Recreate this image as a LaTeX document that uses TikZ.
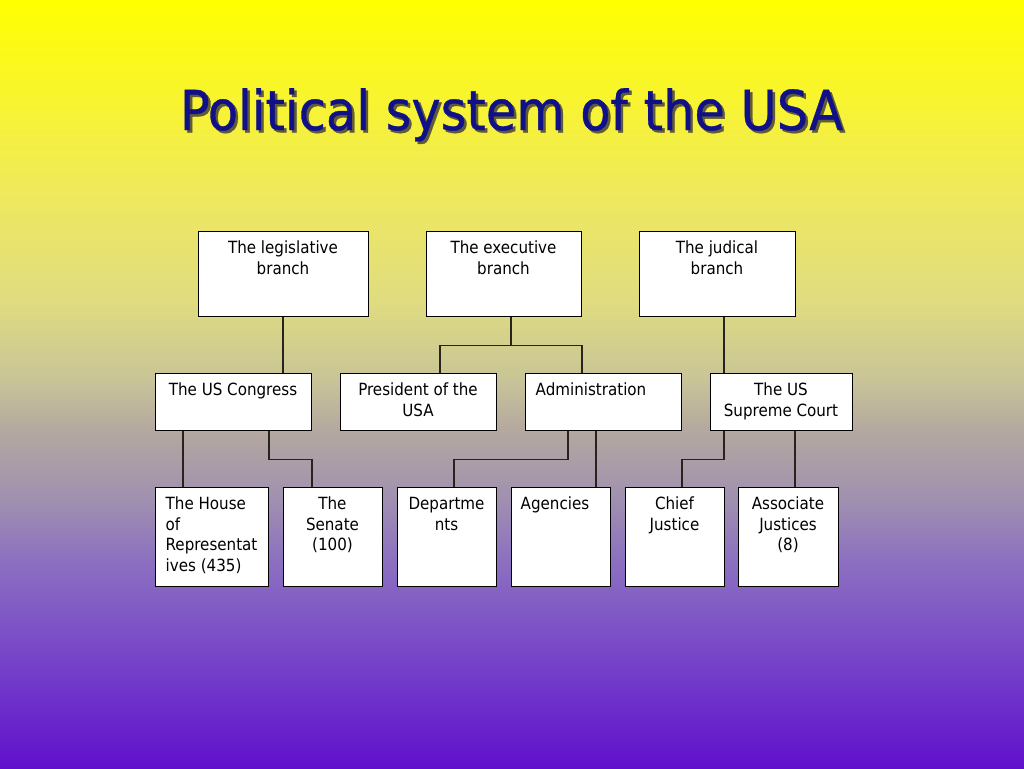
\documentclass[tikz,border=0pt]{standalone}
\usepackage{fontspec}
\setmainfont{DejaVu Sans Condensed}
\definecolor{titleblue}{RGB}{16,16,136}
\definecolor{titleshadow}{RGB}{95,90,55}
\definecolor{lineclr}{RGB}{40,35,30}
\pgfdeclareverticalshading{bgshade}{100bp}{%
rgb(0bp)=(0.376,0.063,0.8);
rgb(25bp)=(0.376,0.063,0.8);
rgb(32.68bp)=(0.471,0.282,0.784);
rgb(38.54bp)=(0.549,0.439,0.753);
rgb(42.45bp)=(0.627,0.565,0.69);
rgb(47bp)=(0.706,0.659,0.627);
rgb(50.26bp)=(0.784,0.769,0.596);
rgb(55.47bp)=(0.878,0.863,0.502);
rgb(61.98bp)=(0.933,0.91,0.376);
rgb(68.49bp)=(0.973,0.957,0.188);
rgb(75bp)=(1,1,0);
rgb(100bp)=(1,1,0)}
\newcommand{\ttltext}{Political system of the USA}
\tikzset{
  box/.style={draw=black, line width=1pt, fill=white, inner sep=0pt},
  lbl/.style={anchor=north, inner sep=0pt, align=center, text=black,
    font=\fontsize{16.8}{20.6}\selectfont},
  lbll/.style={anchor=north west, inner sep=0pt, align=left, text=black,
    font=\fontsize{16.8}{20.6}\selectfont},
  conn/.style={draw=lineclr, line width=1.2pt},
  ttl/.style={anchor=base, inner sep=0pt, font=\fontsize{55}{60}\selectfont\addfontfeature{FakeBold=0.6}}
}
\begin{document}
\begin{tikzpicture}[x=1pt,y=-1pt]
\useasboundingbox (0,0) rectangle (1024,768);
\shade[shading=bgshade] (0pt,0pt) rectangle (1024pt,-768pt);

% title with shadow
\node[ttl] (title) at (511.5,130) {\makebox[0pt][l]{\hspace{2.5pt}\raisebox{-2.5pt}{\textcolor{titleshadow}{\ttltext}}}\textcolor{titleblue}{\ttltext}};

% row 1
\node[box, minimum width=170, minimum height=85] (leg) at (283,273.5) {};
\node[box, minimum width=155, minimum height=85] (exe) at (503.5,273.5) {};
\node[box, minimum width=156, minimum height=85] (jud) at (717,273.5) {};
% row 2
\node[box, minimum width=156, minimum height=57] (con) at (233,401.5) {};
\node[box, minimum width=156, minimum height=57] (pre) at (418,401.5) {};
\node[box, minimum width=156, minimum height=57] (adm) at (603,401.5) {};
\node[box, minimum width=142, minimum height=57] (sup) at (781,401.5) {};
% row 3
\node[box, minimum width=113, minimum height=99] (hou) at (211.5,536.5) {};
\node[box, minimum width=99, minimum height=99] (sen) at (332.5,536.5) {};
\node[box, minimum width=99, minimum height=99] (dep) at (446.5,536.5) {};
\node[box, minimum width=99, minimum height=99] (age) at (560.5,536.5) {};
\node[box, minimum width=99, minimum height=99] (chi) at (674.5,536.5) {};
\node[box, minimum width=100, minimum height=99] (ass) at (788,536.5) {};

% labels
\node[lbl] (legT) at ([yshift=-8.3pt]leg.north) {\strut The legislative\\branch};
\node[lbl] (exeT) at ([yshift=-8.3pt]exe.north) {\strut The executive\\branch};
\node[lbl] (judT) at ([yshift=-8.3pt]jud.north) {\strut The judical\\branch};
\node[lbl] (conT) at ([yshift=-8.3pt]con.north) {\strut The US Congress};
\node[lbl] (preT) at ([yshift=-8.3pt]pre.north) {\strut President of the\\USA};
\node[lbll] (admT) at ([xshift=11pt,yshift=-8.3pt]adm.north west) {\strut Administration};
\node[lbl] (supT) at ([yshift=-8.3pt]sup.north) {\strut The US\\Supreme Court};
\node[lbll] (houT) at ([xshift=11pt,yshift=-8.3pt]hou.north west) {\strut The House\\of\\Representat\\ives (435)};
\node[lbl] (senT) at ([yshift=-8.3pt]sen.north) {\strut The\\Senate\\(100)};
\node[lbl] (depT) at ([yshift=-8.3pt]dep.north) {\strut Departme\\nts};
\node[lbll] (ageT) at ([xshift=10pt,yshift=-8.3pt]age.north west) {\strut Agencies};
\node[lbl] (chiT) at ([yshift=-8.3pt]chi.north) {\strut Chief\\Justice};
\node[lbl] (assT) at ([yshift=-8.3pt]ass.north) {\strut Associate\\Justices\\(8)};

% connectors
\draw[conn] (leg.south) -- (leg.south |- con.north);
\draw[conn] ([xshift=7.5pt]exe.south) -- ++(0,29) coordinate (ej) -| ([xshift=22pt]pre.north);
\draw[conn] (ej) -| ([xshift=-21pt]adm.north);
\draw[conn] ([xshift=7pt]jud.south) -- ([xshift=7pt]jud.south |- sup.north);

\draw[conn] ([xshift=-50pt]con.south) -- ([xshift=-50pt]con.south |- hou.north);
\draw[conn] ([xshift=36pt]con.south) -- ++(0,29) -| ([xshift=-20.5pt]sen.north);
\draw[conn] ([xshift=-35pt]adm.south) -- ++(0,29) -| ([xshift=7.5pt]dep.north);
\draw[conn] ([xshift=-7pt]adm.south) -- ([xshift=-7pt]adm.south |- age.north);
\draw[conn] ([xshift=-57pt]sup.south) -- ++(0,29) -| ([xshift=7.5pt]chi.north);
\draw[conn] ([xshift=14pt]sup.south) -- ([xshift=14pt]sup.south |- ass.north);
\end{tikzpicture}
\end{document}
